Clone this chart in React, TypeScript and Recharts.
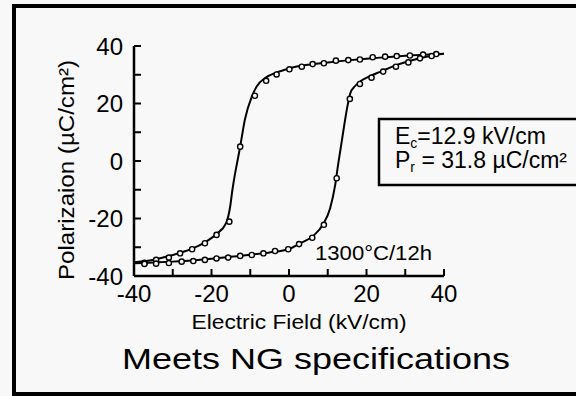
import React from 'react';
import { ComposedChart, Line, Scatter, XAxis, YAxis } from 'recharts';

// fitted loop, upper branch (field sweeping down), ascending field order
const upperFitField = [-40, -36, -32, -28, -25, -21.7, -18.7, -16.2, -15.2, -14.6, -14, -13.3, -12.6, -11.4, -9.6, -8.3, -6, -3, 0, 5, 10, 15, 20, 25, 30, 35, 40];
const upperFitPol = [-35.2, -34.6, -33.4, -31.9, -30.5, -28.3, -25.4, -21.5, -16, -10, -5, 0, 5, 14.3, 22.4, 26, 29, 30.9, 32.2, 33.5, 34.3, 35, 35.6, 36.1, 36.6, 37, 37.3];

// fitted loop, lower branch (field sweeping up)
const lowerFitField = [-40, -35, -30, -25, -20, -15, -10, -5, 0, 3, 6.3, 8.8, 10.6, 11.9, 12.7, 13.4, 14.2, 15, 15.8, 17, 18.5, 21, 23.5, 27, 30.4, 34, 37.2, 40];
const lowerFitPol = [-35.6, -35.3, -35, -34.6, -34, -33.3, -32.6, -31.8, -30.6, -28.6, -26, -22, -16.5, -8.5, -1, 5, 12, 18.5, 23.5, 26, 27.8, 29.6, 31, 33, 34.5, 35.8, 36.8, 37.3];

// measured points (open circles)
const upperMeasField = [38, 34.6, 31.2, 27.8, 24.8, 21.6, 18.3, 15.3, 12.1, 9, 6.1, 3.3, 0.1, -3.2, -5.9, -8.8, -12.6, -15.4, -18.7, -21.7, -25, -28.1, -31, -34.3, -37.3];
const upperMeasPol = [37.2, 37, 36.7, 36.5, 36.3, 36.1, 35.3, 35.1, 34.9, 34, 33.7, 32.8, 31.9, 30.1, 27.9, 22.7, 5, -21.1, -25.7, -28.6, -30.7, -32.1, -33.6, -34.4, -35.4];
const lowerMeasField = [-37.3, -34.3, -31, -27.7, -24.7, -21.7, -18.7, -15.7, -12.6, -9.6, -6.6, -3.6, -0.2, 2.6, 6, 9, 12.3, 15.7, 18.3, 21.3, 24.3, 27.6, 30.8, 33.8, 36.8];
const lowerMeasPol = [-35.8, -35.7, -35.5, -35, -34.8, -34.4, -33.9, -33.6, -33, -32.7, -32.1, -31.3, -30.7, -28.9, -26.7, -22.2, -6, 21.6, 26.8, 29, 31.1, 32.8, 34.3, 35.7, 36.5];

const axisTicks = [-40, -30, -20, -10, 0, 10, 20, 30, 40];

const FONT = "'Liberation Sans', Arial, Helvetica, sans-serif";
const BG = '#f8f8f8';

const toPoints = (es: number[], ps: number[]) => es.map((e, i) => ({ e, p: ps[i] }));

const upperFit = toPoints(upperFitField, upperFitPol);
const lowerFit = toPoints(lowerFitField, lowerFitPol);
const upperMeas = toPoints(upperMeasField, upperMeasPol);
const lowerMeas = toPoints(lowerMeasField, lowerMeasPol);

const labelEvery20 = (v: number) => (v % 20 === 0 ? String(v) : '');

const Ring = (props: any) => (
  <circle cx={props.cx} cy={props.cy} r={2.6} fill={BG} stroke="#000" strokeWidth={1.4} />
);

const axisLine = { stroke: '#000', strokeWidth: 2.5 };
const tickLine = { stroke: '#000', strokeWidth: 2 };
const tickText = { fill: '#000', fontSize: 24, fontFamily: FONT };

export default function App() {
  return (
    <div style={{ position: 'absolute', left: 0, top: 0, width: 576, height: 396, background: BG, overflow: 'hidden' }}>
      <ComposedChart width={576} height={396} margin={{ top: 46, right: 132, bottom: 90, left: 74 }}>
        <XAxis
          xAxisId="b"
          type="number"
          dataKey="e"
          domain={[-40, 40]}
          ticks={axisTicks}
          interval={0}
          tickFormatter={labelEvery20}
          tickSize={-7}
          tickMargin={16}
          height={30}
          axisLine={axisLine}
          tickLine={tickLine}
          tick={tickText}
          allowDataOverflow
        />
        <XAxis
          xAxisId="t"
          orientation="top"
          type="number"
          dataKey="e"
          domain={[-40, 40]}
          ticks={axisTicks}
          interval={0}
          tickSize={-7}
          height={0}
          axisLine={axisLine}
          tickLine={tickLine}
          tick={false}
          allowDataOverflow
        />
        <YAxis
          yAxisId="l"
          type="number"
          dataKey="p"
          domain={[-40, 40]}
          ticks={axisTicks}
          interval={0}
          tickFormatter={labelEvery20}
          tickSize={-7}
          tickMargin={18}
          width={60}
          axisLine={axisLine}
          tickLine={tickLine}
          tick={tickText}
          allowDataOverflow
        />
        <YAxis
          yAxisId="r"
          orientation="right"
          type="number"
          dataKey="p"
          domain={[-40, 40]}
          ticks={axisTicks}
          interval={0}
          tickSize={-7}
          width={0}
          axisLine={axisLine}
          tickLine={tickLine}
          tick={false}
          allowDataOverflow
        />
        <Line xAxisId="b" yAxisId="l" data={upperFit} dataKey="p" type="monotone" stroke="#000" strokeWidth={2} dot={false} isAnimationActive={false} />
        <Line xAxisId="b" yAxisId="l" data={lowerFit} dataKey="p" type="monotone" stroke="#000" strokeWidth={2} dot={false} isAnimationActive={false} />
        <Scatter xAxisId="b" yAxisId="l" data={upperMeas} dataKey="p" shape={Ring} isAnimationActive={false} />
        <Scatter xAxisId="b" yAxisId="l" data={lowerMeas} dataKey="p" shape={Ring} isAnimationActive={false} />
      </ComposedChart>

      <svg width={576} height={396} style={{ position: 'absolute', left: 0, top: 0, pointerEvents: 'none' }} fontFamily={FONT}>
        {/* outer frame, runs off the right edge */}
        <rect x={14} y={6} width={600} height={388} fill="none" stroke="#000" strokeWidth={4} />

        {/* annotation box */}
        <rect x={379} y={119} width={220} height={66} fill={BG} stroke="#000" strokeWidth={2.5} />
        <text x={395} y={144} fontSize={23} fill="#000">
          <tspan>E</tspan>
          <tspan fontSize={14} dy={4}>c</tspan>
          <tspan dy={-4}>=12.9 kV/cm</tspan>
        </text>
        <text x={395} y={168} fontSize={23} fill="#000">
          <tspan>P</tspan>
          <tspan fontSize={14} dy={4}>r</tspan>
          <tspan dy={-4}> = 31.8 µC/cm²</tspan>
        </text>

        <text x={315} y={260} fontSize={21} fill="#000" textLength={117} lengthAdjust="spacingAndGlyphs">1300°C/12h</text>

        <text x={299} y={329} fontSize={20} fill="#000" textAnchor="middle" textLength={215} lengthAdjust="spacingAndGlyphs">
          Electric Field (kV/cm)
        </text>
        <text
          x={74}
          y={170}
          fontSize={22}
          fill="#000"
          textAnchor="middle"
          transform="rotate(-90 74 170)"
          textLength={220}
          lengthAdjust="spacingAndGlyphs"
        >
          Polarizaion (µC/cm²)
        </text>
        <text x={316} y={369} fontSize={29} fill="#000" textAnchor="middle" textLength={388} lengthAdjust="spacingAndGlyphs">
          Meets NG specifications
        </text>
      </svg>
    </div>
  );
}
